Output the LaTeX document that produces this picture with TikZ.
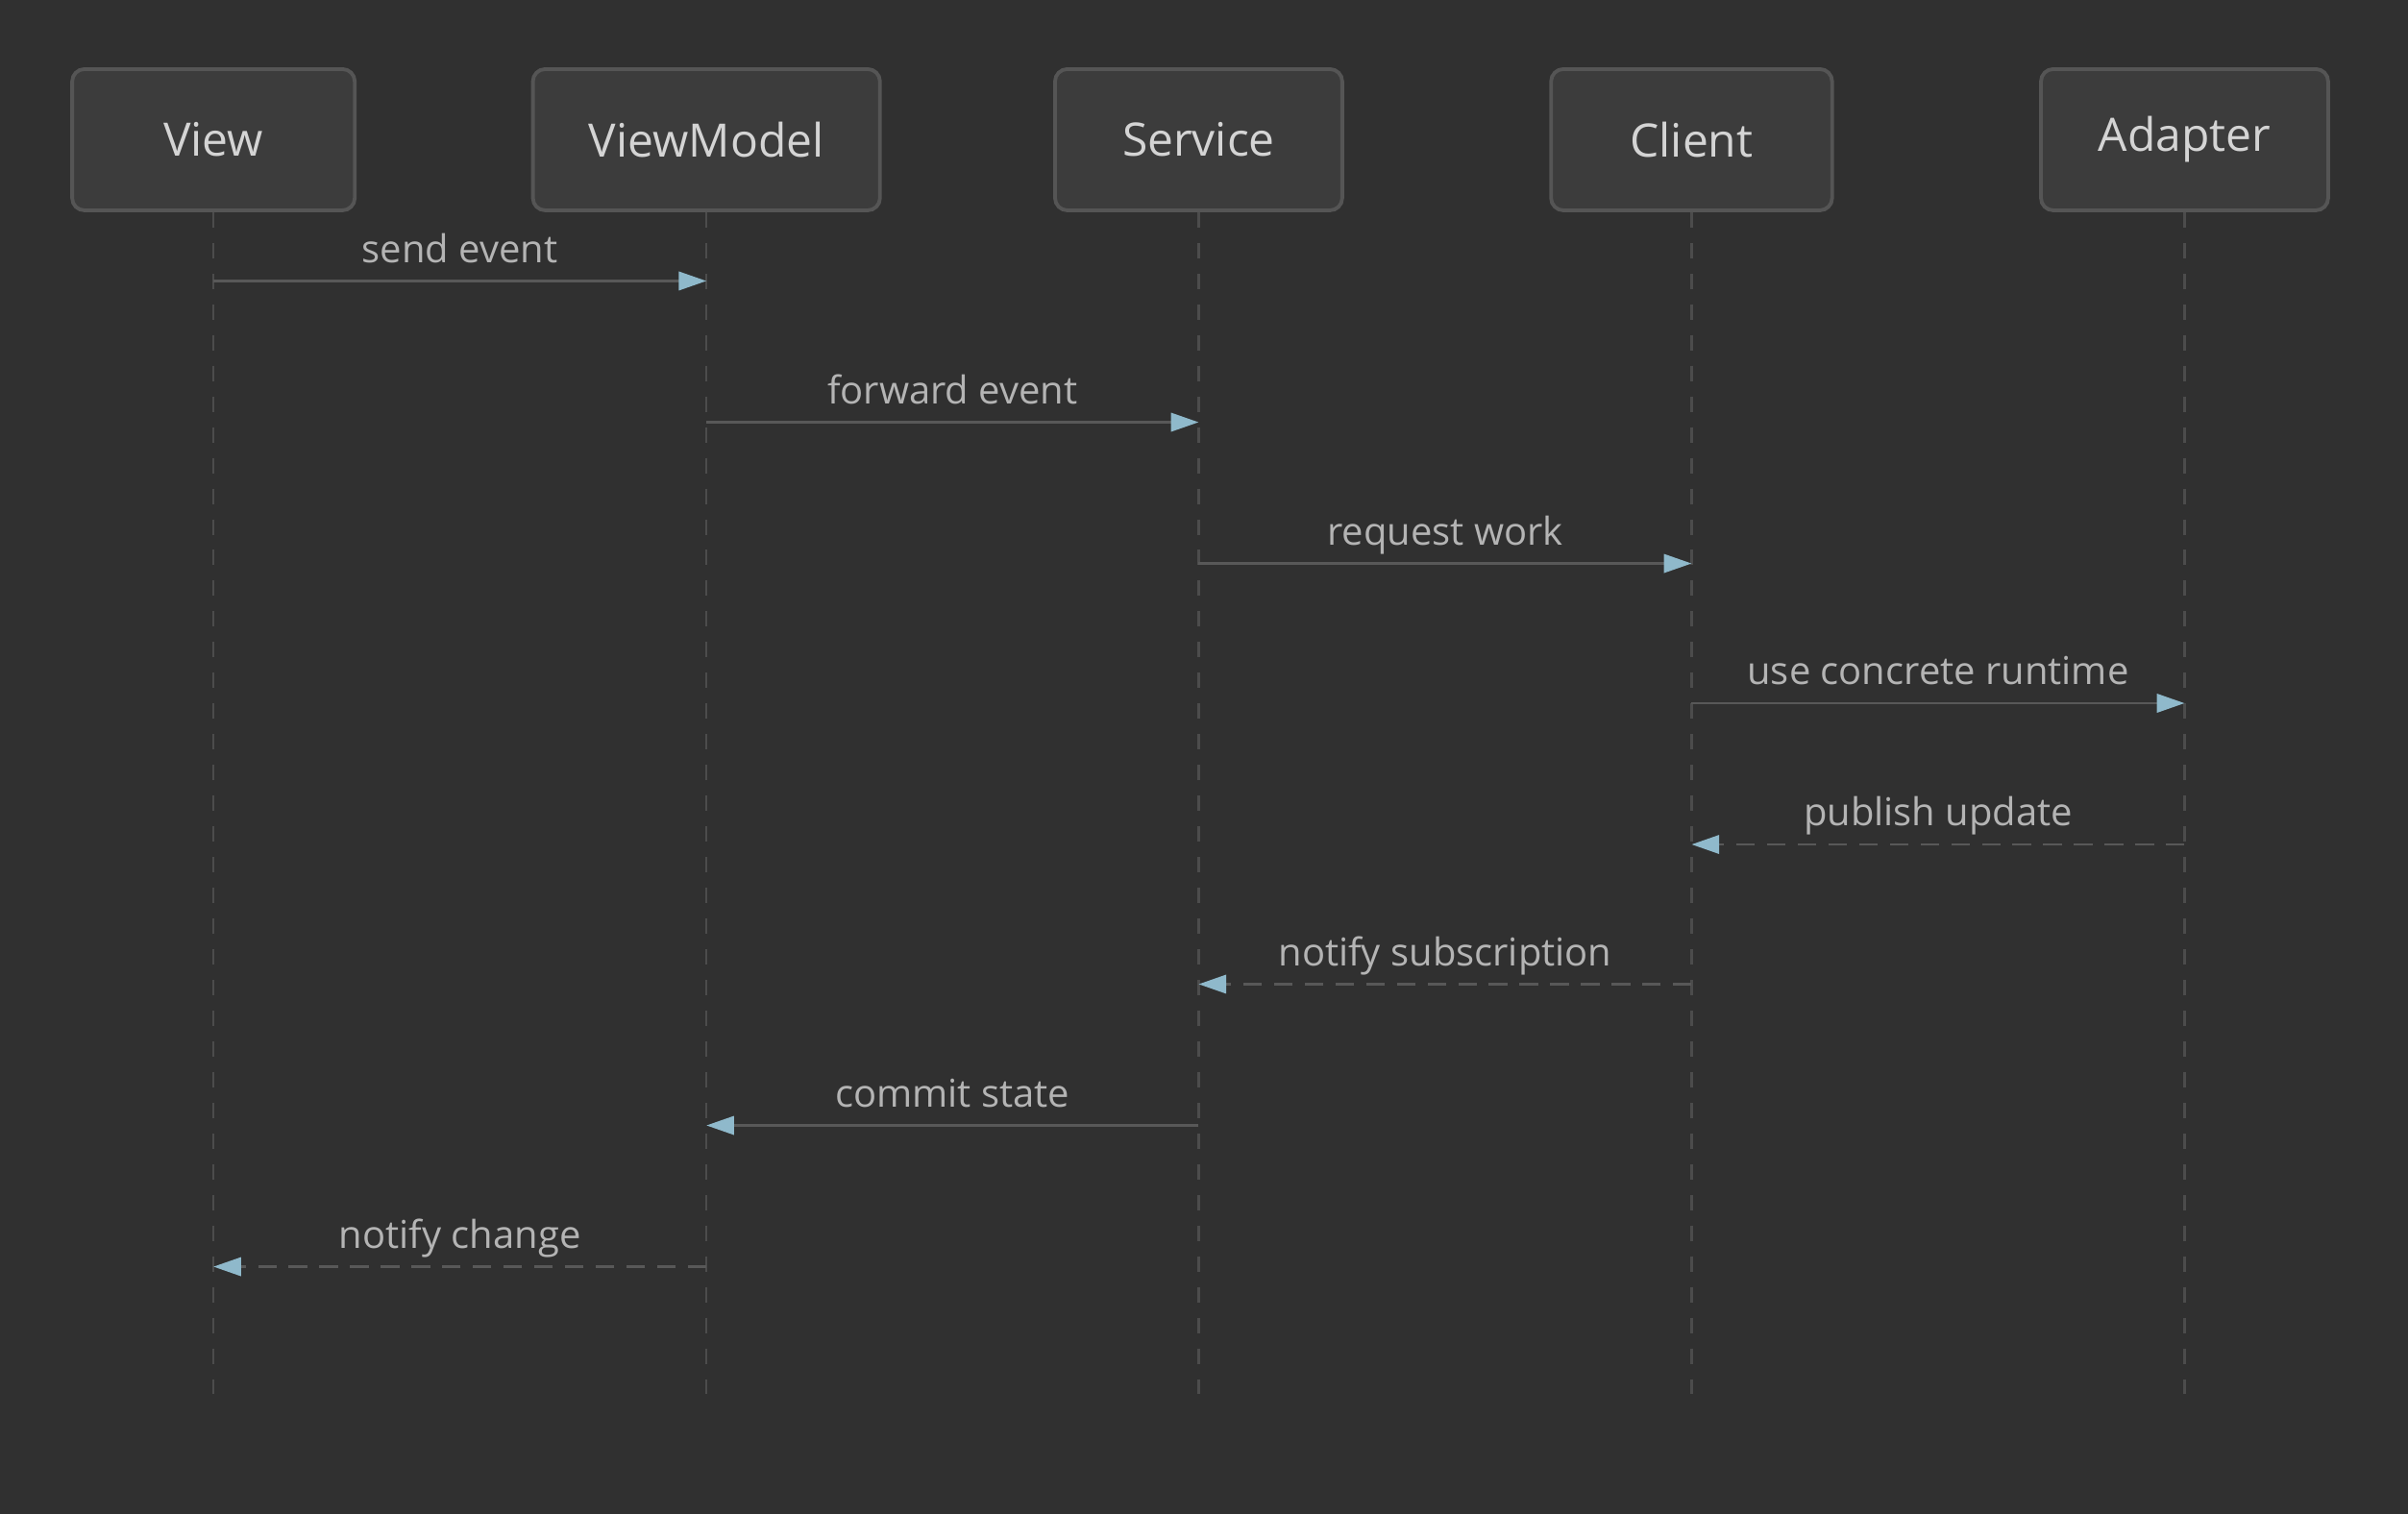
\documentclass[tikz,border=0pt]{standalone}
\usepackage{fontspec}
\setmainfont{Open Sans}
\usetikzlibrary{arrows.meta,calc}
\definecolor{bg}{HTML}{303030}
\definecolor{boxfill}{HTML}{3C3C3C}
\definecolor{boxline}{HTML}{555555}
\definecolor{txt}{HTML}{D4D4D4}
\definecolor{lbl}{HTML}{B4B4B4}
\definecolor{life}{HTML}{4C4C4C}
\definecolor{msg}{HTML}{585858}
\definecolor{head}{HTML}{8FB9CB}
\begin{document}
\begin{tikzpicture}[x=0.5pt,y=-0.5pt,
  actor/.style={draw=boxline,line width=1.2pt,fill=boxfill,rounded corners=4pt,text=txt,font=\fontsize{15}{18}\selectfont,inner sep=0pt},
  lifeline/.style={draw=life,line width=0.7pt,dash pattern=on 5pt off 5pt},
  call/.style={draw=msg,line width=0.9pt,-{Triangle[length=9pt,width=6pt,fill=head,color=head]}},
  ret/.style={call,dash pattern=on 6pt off 4pt},
  lab/.style={text=lbl,font=\fontsize{12.5}{15}\selectfont,anchor=base}]
\fill[bg] (0,0) rectangle (1568,986);
\useasboundingbox (0,0) rectangle (1568,986);
\foreach \n/\t/\l/\r in {a/View/47/231,b/ViewModel/347/573,c/Service/687/874,d/Client/1010/1193,e/Adapter/1329/1516}{
  \pgfmathsetmacro\w{(\r-\l)*0.5}
  \node[actor,minimum width=\w pt,minimum height=46pt] (\n) at ({(\l+\r)/2},91) {\t};
  \coordinate (\n b) at ({(\l+\r)/2},908);
  \draw[lifeline] (\n.south) -- (\n b);
}
\foreach \f/\g/\y/\s/\t [count=\i] in {a/b/183/call/send event,b/c/275/call/forward event,c/d/367/call/request work,d/e/458/call/use concrete runtime,e/d/550/ret/publish update,d/c/641/ret/notify subscription,c/b/733/call/commit state,b/a/825/ret/notify change}{
  \coordinate (s\i) at (\f.south |- 0,\y);
  \coordinate (t\i) at (\g.south |- 0,\y);
  \draw[\s] (s\i) -- (t\i);
  \node[lab] (l\i) at ($(s\i)!0.5!(t\i)+(0,-12)$) {\t};
}
\end{tikzpicture}
\end{document}
